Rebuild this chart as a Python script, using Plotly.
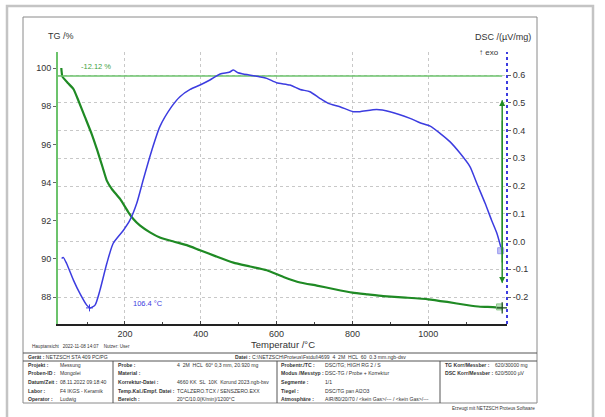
import plotly.graph_objects as go

# TG curve (green), temperature in °C, mass in %
tg_temp = [32, 35, 50, 64, 77, 94, 112, 127, 141, 152, 165, 187, 209, 222, 240, 266, 292,
           328, 363, 398, 440, 486, 530, 574, 618, 662, 706, 750, 800, 840, 881, 940, 1000,
           1050, 1101, 1137, 1170, 1195]
tg_val = [100.0, 99.55, 99.2, 98.9, 98.3, 97.45, 96.55, 95.68, 94.8, 94.1, 93.67, 93.14,
          92.44, 92.09, 91.74, 91.39, 91.12, 90.91, 90.72, 90.45, 90.13, 89.8, 89.6, 89.4,
          89.05, 88.76, 88.6, 88.42, 88.23, 88.14, 88.05, 87.97, 87.88, 87.74, 87.58, 87.49,
          87.47, 87.43]

# DSC curve (blue), µV/mg
dsc_temp = [33, 37, 46, 64, 81, 99, 108, 121, 134, 152, 169, 196, 213, 231, 248, 271, 292,
            323, 345, 372, 398, 424, 451, 475, 486, 498, 512, 547, 574, 600, 635, 662, 688,
            714, 736, 767, 802, 820, 864, 899, 952, 978, 1005, 1031, 1057, 1084, 1110, 1128,
            1150, 1167, 1181, 1196]
dsc_val = [-0.061, -0.057, -0.079, -0.139, -0.187, -0.229, -0.239, -0.229, -0.175, -0.079,
           -0.006, 0.041, 0.077, 0.138, 0.222, 0.330, 0.414, 0.486, 0.522, 0.548, 0.564,
           0.582, 0.604, 0.610, 0.618, 0.608, 0.604, 0.596, 0.588, 0.572, 0.564, 0.548, 0.540,
           0.516, 0.498, 0.486, 0.468, 0.468, 0.476, 0.468, 0.444, 0.428, 0.416, 0.390, 0.360,
           0.318, 0.270, 0.210, 0.138, 0.077, 0.030, -0.043]

tg_ticks = [88, 90, 92, 94, 96, 98, 100]
dsc_ticks = [-0.2, -0.1, 0.0, 0.1, 0.2, 0.3, 0.4, 0.5, 0.6]
temp_ticks = [200, 400, 600, 800, 1000]

step_level = 99.58
step_label = "-12.12 %"
peak_temp = 106.4
peak_dsc = -0.239

header = [("Gerät :", "NETZSCH STA 409 PC/PG"),
          ("Datei :", "C:\\NETZSCH\\Proteus\\Fstdul\\4699  4  2M  HCL  60  0.3 mm.ngb-dsv")]
table_rows = [
    [("Projekt :", "Messung"), ("Probe :", "4  2M  HCL  60° 0,3 mm, 20.920 mg"),
     ("Probentr./TC :", "DSC/TG; HIGH RG 2 / S"), ("TG Korr/Messber :", "620/30000 mg")],
    [("Proben-ID :", "Mongolei"), ("Material :", ""),
     ("Modus /Messtyp :", "DSC-TG / Probe + Korrektur"), ("DSC Korr/Messber :", "620/5000 µV")],
    [("Datum/Zeit :", "08.11.2022 09:18:40"), ("Korrektur-Datei :", "4660 KK  SL  10K  Korund 2023.ngb-bsv"),
     ("Segmente :", "1/1"), None],
    [("Labor :", "F4 IKGS - Keramik"), ("Temp.Kal./Empf. Datei :", "TCALZERO.TCX / SENSZERO.EXX"),
     ("Tiegel :", "DSC/TG pan Al2O3"), None],
    [("Operator :", "Ludwig"), ("Bereich :", "20°C/10.0(K/min)/1200°C"),
     ("Atmosphäre :", "AIR/80/20/70 / <kein Gas>/--- / <kein Gas>/---"), None],
]

# plot area in pixels
X0, X1, Y0, Y1 = 58, 507, 52, 324
W, H = 605, 417
T_MIN, T_MAX = 23.3, 1207.7
TG_MIN, TG_MAX = 86.585, 100.84
DSC_MIN, DSC_MAX = -0.297, 0.683


def px(x):
    return (x - X0) / (X1 - X0)


def py(y):
    return (Y1 - y) / (Y1 - Y0)


FONT = "Liberation Sans, Arial, sans-serif"
GREEN = "#1f8a24"
LGREEN = "#6cc36c"
BLUE = "#3c3ce0"
GRAY = "#333333"

fig = go.Figure()
fig.add_trace(go.Scatter(x=tg_temp, y=tg_val, mode="lines",
                         line=dict(color=GREEN, width=2.2, shape="spline", smoothing=0.5), yaxis="y"))
fig.add_trace(go.Scatter(x=dsc_temp, y=dsc_val, mode="lines",
                         line=dict(color=BLUE, width=1.5, shape="spline", smoothing=0.6),
                         yaxis="y2"))
# step line
fig.add_trace(go.Scatter(x=[T_MIN, tg_temp[-1]], y=[step_level, step_level], mode="lines",
                         line=dict(color=LGREEN, width=1.5), yaxis="y"))
# end markers
fig.add_trace(go.Scatter(x=[tg_temp[-1] - 7], y=[tg_val[-1] + 0.05], mode="markers",
                         marker=dict(symbol="square", size=6, color="rgba(160,210,160,0.7)",
                                     line=dict(color="#8ac88a", width=1)), yaxis="y"))
fig.add_trace(go.Scatter(x=[tg_temp[-1]], y=[tg_val[-1]], mode="markers",
                         marker=dict(symbol="cross-thin", size=8, line=dict(color="#1a4a1a", width=1.2)),
                         yaxis="y"))
fig.add_trace(go.Scatter(x=[dsc_temp[-1] - 5], y=[dsc_val[-1] + 0.01], mode="markers",
                         marker=dict(symbol="square", size=6, color="rgba(170,170,240,0.7)",
                                     line=dict(color="#9a9af0", width=1)), yaxis="y2"))
fig.add_trace(go.Scatter(x=[peak_temp], y=[peak_dsc], mode="markers",
                         marker=dict(symbol="cross-thin", size=5, line=dict(color=BLUE, width=1)),
                         yaxis="y2"))

shapes = []
# outer gray frame and inner box
shapes.append(dict(type="rect", xref="paper", yref="paper", x0=px(7), x1=px(593), y0=py(430), y1=py(6),
                   line=dict(color="#c4c4c4", width=2.5)))
shapes.append(dict(type="rect", xref="paper", yref="paper", x0=px(23), x1=px(537), y0=py(403), y1=py(17),
                   line=dict(color="#8a8a8a", width=1)))
# table lines
for yy in (353, 361):
    shapes.append(dict(type="line", xref="paper", yref="paper", x0=px(23), x1=px(537), y0=py(yy), y1=py(yy),
                       line=dict(color="#555555", width=1)))
for xx in (113, 277, 440):
    shapes.append(dict(type="line", xref="paper", yref="paper", x0=px(xx), x1=px(xx), y0=py(361), y1=py(403),
                       line=dict(color="#555555", width=1)))
# dotted DSC axis line
shapes.append(dict(type="line", xref="paper", yref="paper", x0=1, x1=1, y0=0, y1=1,
                   line=dict(color=BLUE, width=2, dash="dot")))
# double arrow for mass change
arrow_top, arrow_bot = 98.32, 88.73
shapes.append(dict(type="line", xref="x", yref="y", x0=tg_temp[-1], x1=tg_temp[-1], y0=arrow_bot, y1=arrow_top,
                   line=dict(color=GREEN, width=1)))

annotations = []
for y_end, y_start in ((arrow_top, arrow_bot + 1), (arrow_bot, arrow_top - 1)):
    annotations.append(dict(x=tg_temp[-1], y=y_end, ax=tg_temp[-1], ay=y_start, xref="x", yref="y",
                            axref="x", ayref="y", showarrow=True, arrowhead=2, arrowsize=1.2,
                            arrowwidth=1, arrowcolor=GREEN, text=""))


def text(x, y, s, size, color=GRAY, xanchor="left", yanchor="middle"):
    annotations.append(dict(x=px(x), y=py(y), xref="paper", yref="paper", text=s, showarrow=False,
                            xanchor=xanchor, yanchor=yanchor,
                            font=dict(family=FONT, size=size, color=color)))


text(46, 36, "TG /%", 9)
text(533, 37, "DSC /(µV/mg)", 9, xanchor="right")
text(501, 52, "↑ exo", 8, xanchor="right")
text(283, 344, "Temperatur /°C", 9.5, xanchor="center")
text(79, 66, step_label, 7.5, color="#3f9f3f")
text(131, 303, f"{peak_temp} °C", 7.5, color=BLUE)
text(30, 346, "Hauptansicht   2022-11-08 14:07    Nutzer: User", 4.6)
text(537, 408, "Erzeugt mit NETZSCH Proteus Software", 4.6, xanchor="right")

# table header
TS = 5.1
text(26, 357, f"<b>{header[0][0]}</b> {header[0][1]}", TS)
text(233, 357, f"<b>{header[1][0]}</b> {header[1][1]}", TS)
label_x = [26, 116, 279, 443]
value_x = [58, 175, 323, 493]
row_y = [364.5, 373, 382, 390.5, 399]
for r, row in enumerate(table_rows):
    for c, cell in enumerate(row):
        if cell is None:
            continue
        text(label_x[c], row_y[r], f"<b>{cell[0]}</b>", TS)
        if cell[1]:
            text(value_x[c], row_y[r], cell[1], TS)

fig.update_layout(
    width=W, height=H,
    margin=dict(l=X0, r=W - X1, t=Y0, b=H - Y1),
    paper_bgcolor="white", plot_bgcolor="white",
    showlegend=False, hovermode=False,
    shapes=shapes, annotations=annotations,
    font=dict(family=FONT, size=9, color=GRAY),
    xaxis=dict(range=[T_MIN, T_MAX], tickvals=temp_ticks, showgrid=True, gridcolor="#c8c8c8",
               griddash="dot", gridwidth=1, zeroline=False, showline=True, linecolor="#222222",
               linewidth=1.5, ticks="inside", ticklen=3, tickcolor="#444444",
               minor=dict(tickvals=[100, 300, 500, 700, 900, 1100], ticks="inside", ticklen=2,
                          tickcolor="#444444"),
               tickfont=dict(size=9, color=GRAY)),
    yaxis=dict(range=[TG_MIN, TG_MAX], tickvals=tg_ticks, showgrid=False, zeroline=False,
               showline=True, linecolor=LGREEN, linewidth=2, ticks="outside", ticklen=3,
               tickcolor="#666666", tickfont=dict(size=9, color=GRAY)),
    yaxis2=dict(range=[DSC_MIN, DSC_MAX], tickvals=dsc_ticks, ticktext=[f"{v:.1f}" for v in dsc_ticks],
                overlaying="y", side="right", showgrid=True, gridcolor="#c8c8c8", griddash="dot",
                gridwidth=1, zeroline=False, showline=False, ticks="outside", ticklen=3,
                tickcolor="#666666", tickfont=dict(size=9, color=GRAY)),
)

fig.write_html("out.html", config=dict(displayModeBar=False),
               post_script="document.body.style.margin='0';document.body.style.overflow='hidden';")
